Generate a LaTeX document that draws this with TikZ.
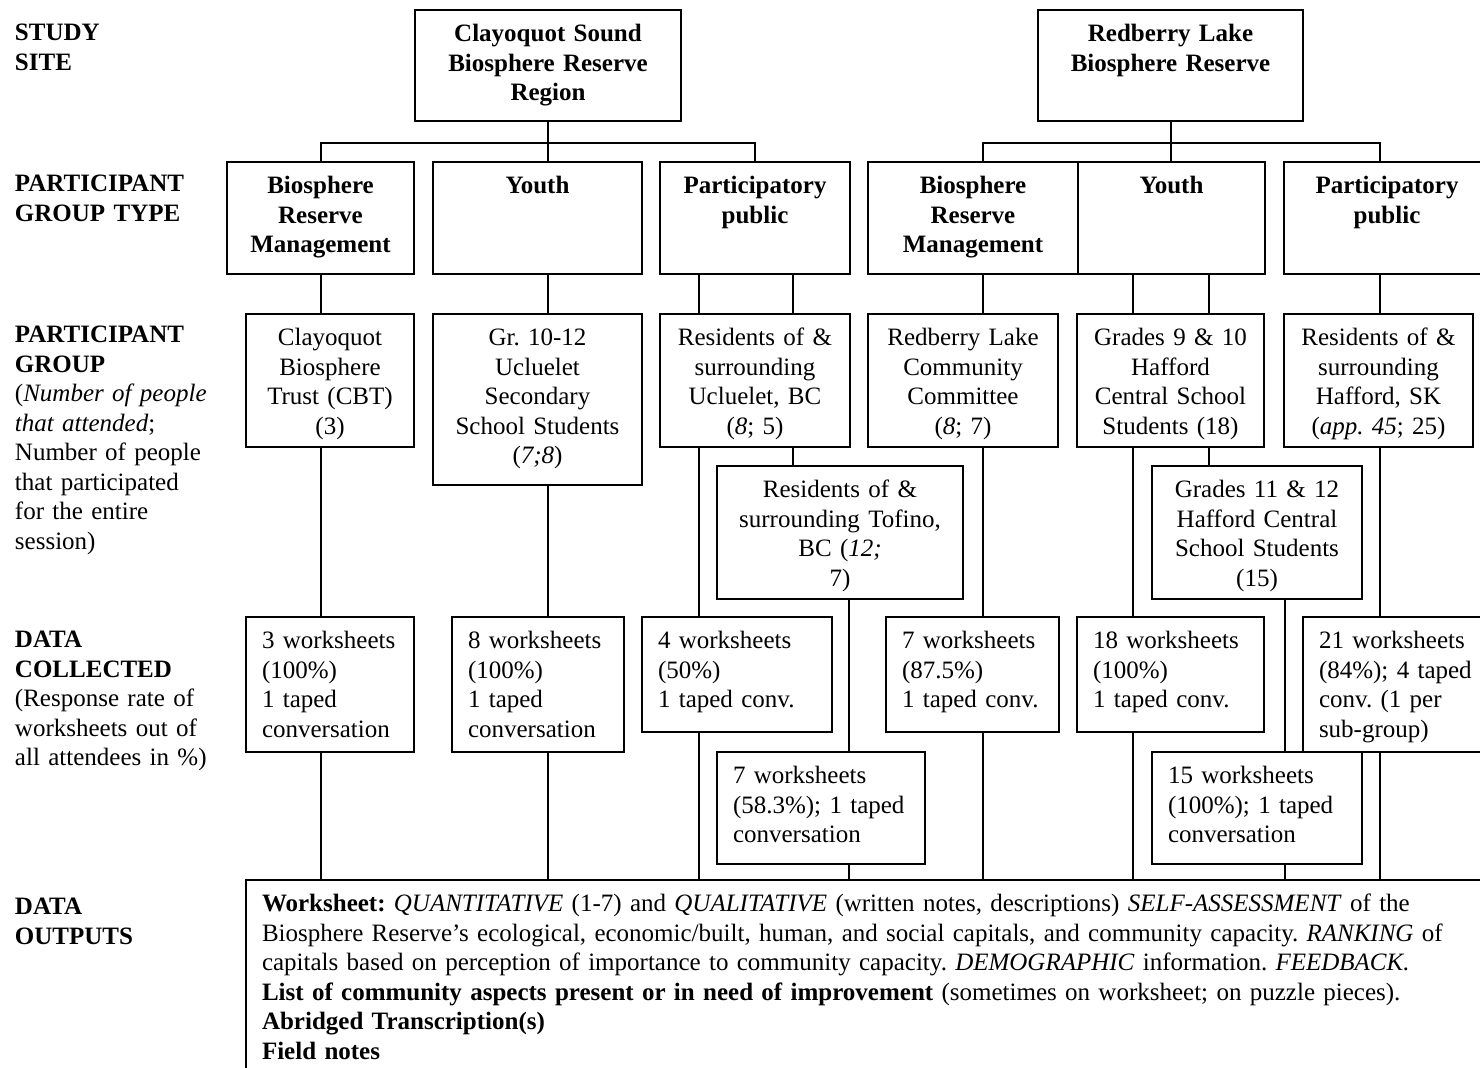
\documentclass[tikz,border=0pt]{standalone}
\usepackage{fontspec}
\setmainfont{Liberation Serif}
\usetikzlibrary{calc}
\frenchspacing

\begin{document}
\begin{tikzpicture}[x=0.5pt,y=-0.5pt,line width=1pt,
    every node/.style={font=\fontsize{12.5}{14.75}\selectfont},
    frame/.style={draw,anchor=north west,outer sep=0pt,inner ysep=0pt,text height=16pt},
    cbox/.code 2 args={\pgfmathsetmacro\bw{#1/2}\pgfmathsetmacro\bd{#2/2-16}%
        \tikzset{frame,align=center,inner xsep=0pt,text width=\bw pt,text depth=\bd pt}},
    lbox/.code 2 args={\pgfmathsetmacro\bw{#1/2-16}\pgfmathsetmacro\bd{#2/2-16}%
        \tikzset{frame,align=left,inner xsep=8pt,text width=\bw pt,text depth=\bd pt}},
    head/.style={font=\fontsize{12.5}{14.75}\selectfont\bfseries},
    side/.style={anchor=north west,inner sep=0pt,text height=16pt,text width=110pt,align=left}]
    \useasboundingbox (0,0) rectangle (1480,1068);

    % row labels
    \node[side,head] (lsite) at (14,8) {STUDY\\SITE};
    \node[side,head] (ltype) at (14,159) {PARTICIPANT\\GROUP TYPE};
    \node[side] (lgroup) at (14,310) {\textbf{PARTICIPANT}\\\textbf{GROUP}\\(\textit{Number of people}\\\textit{that attended};\\Number of people\\that participated\\for the entire\\session)};
    \node[side] (ldata) at (14,615) {\textbf{DATA}\\\textbf{COLLECTED}\\(Response rate of\\worksheets out of\\all attendees in \%)};
    \node[side,head] (lout) at (14,882) {DATA\\OUTPUTS};

    % study sites
    \node[cbox={266}{111},head] (clay) at (415,10) {Clayoquot Sound\\Biosphere Reserve\\Region};
    \node[cbox={265}{111},head] (red) at (1038,10) {Redberry Lake\\Biosphere Reserve};

    % group types
    \node[cbox={187}{112},head] (brm1) at (227,162) {Biosphere\\Reserve\\Management};
    \node[cbox={209}{112},head] (youth1) at (433,162) {Youth};
    \node[cbox={190}{112},head] (pp1) at (660,162) {Participatory\\public};
    \node[cbox={210}{112},head] (brm2) at (868,162) {Biosphere\\Reserve\\Management};
    \node[cbox={187}{112},head] (youth2) at (1078,162) {Youth};
    \node[cbox={206}{112},head] (pp2) at (1284,162) {Participatory\\public};

    % groups
    \node[cbox={168}{133}] (cbt) at (246,314) {Clayoquot\\Biosphere\\Trust (CBT)\\(3)};
    \node[cbox={209}{171}] (ucl) at (433,314) {Gr. 10-12\\Ucluelet\\Secondary\\School Students\\(\textit{7;8})};
    \node[cbox={190}{133}] (uclpp) at (660,314) {Residents of \&\\surrounding\\Ucluelet, BC\\(\textit{8}; 5)};
    \node[cbox={190}{133}] (rlc) at (868,314) {Redberry Lake\\Community\\Committee\\(\textit{8}; 7)};
    \node[cbox={187}{133}] (g910) at (1077,314) {Grades 9 \& 10\\Hafford\\Central School\\Students (18)};
    \node[cbox={189}{133}] (hpp) at (1284,314) {Residents of \&\\surrounding\\Hafford, SK\\(\textit{app. 45}; 25)};
    \node[cbox={246}{133}] (tof) at (717,466) {Residents of \&\\surrounding Tofino,\\BC (\textit{12;}\\7)};
    \node[cbox={210}{133}] (g1112) at (1152,466) {Grades 11 \& 12\\Hafford Central\\School Students\\(15)};

    % data collected
    \node[lbox={168}{135}] (ws3) at (246,617) {3 worksheets\\(100\%)\\1 taped\\conversation};
    \node[lbox={172}{135}] (ws8) at (452,617) {8 worksheets\\(100\%)\\1 taped\\conversation};
    \node[lbox={190}{115}] (ws4) at (642,617) {4 worksheets\\(50\%)\\1 taped conv.};
    \node[lbox={173}{115}] (ws7) at (886,617) {7 worksheets\\(87.5\%)\\1 taped conv.};
    \node[lbox={187}{115}] (ws18) at (1077,617) {18 worksheets\\(100\%)\\1 taped conv.};
    \node[lbox={190}{135}] (ws21) at (1303,617) {21 worksheets\\(84\%); 4 taped\\conv. (1 per\\sub-group)};
    \node[lbox={208}{112}] (ws58) at (717,752) {7 worksheets\\(58.3\%); 1 taped\\conversation};
    \node[lbox={210}{112}] (ws15) at (1152,752) {15 worksheets\\(100\%); 1 taped\\conversation};

    % data outputs
    \node[lbox={1250}{200}] (out) at (246,880) {\textbf{Worksheet:} \textit{QUANTITATIVE} (1-7) and \textit{QUALITATIVE} (written notes, descriptions) \textit{SELF-ASSESSMENT} of the\\Biosphere Reserve’s ecological, economic/built, human, and social capitals, and community capacity. \textit{RANKING} of\\capitals based on perception of importance to community capacity. \textit{DEMOGRAPHIC} information. \textit{FEEDBACK.}\\\textbf{List of community aspects present or in need of improvement} (sometimes on worksheet; on puzzle pieces).\\\textbf{Abridged Transcription(s)}\\\textbf{Field notes}};

    % columns of the connectors
    \coordinate (c1) at (321,0);
    \coordinate (c2) at (clay.south);
    \coordinate (c3) at (699,0);
    \coordinate (c4) at (793,0);
    \coordinate (c5) at (849,0);
    \coordinate (c6) at (983,0);
    \coordinate (c7) at (1133,0);
    \coordinate (c8) at (1209,0);
    \coordinate (c9) at (1285,0);
    \coordinate (c10) at (1380,0);
    \coordinate (j1) at ($(clay.south)+(0,22)$);
    \coordinate (j2) at ($(red.south)+(0,22)$);

    \draw
        (clay.south) -- (youth1.north -| c2)
        (brm1.north -| c1) |- (j1) -| (pp1.north)
        (red.south) -- (youth2.north -| red.south)
        (brm2.north -| c6) |- (j2) -| (pp2.north -| c10)
        (brm1.south -| c1) -- (cbt.north -| c1)
        (cbt.south -| c1) -- (ws3.north -| c1)
        (ws3.south -| c1) -- (out.north -| c1)
        (youth1.south -| c2) -- (ucl.north -| c2)
        (ucl.south -| c2) -- (ws8.north -| c2)
        (ws8.south -| c2) -- (out.north -| c2)
        (pp1.south -| c3) -- (uclpp.north -| c3)
        (uclpp.south -| c3) -- (ws4.north -| c3)
        (ws4.south -| c3) -- (out.north -| c3)
        (pp1.south -| c4) -- (uclpp.north -| c4)
        (uclpp.south -| c4) -- (tof.north -| c4)
        (tof.south -| c5) -- (ws58.north -| c5)
        (ws58.south -| c5) -- (out.north -| c5)
        (brm2.south -| c6) -- (rlc.north -| c6)
        (rlc.south -| c6) -- (ws7.north -| c6)
        (ws7.south -| c6) -- (out.north -| c6)
        (youth2.south -| c7) -- (g910.north -| c7)
        (g910.south -| c7) -- (ws18.north -| c7)
        (ws18.south -| c7) -- (out.north -| c7)
        (youth2.south -| c8) -- (g910.north -| c8)
        (g910.south -| c8) -- (g1112.north -| c8)
        (g1112.south -| c9) -- (ws15.north -| c9)
        (ws15.south -| c9) -- (out.north -| c9)
        (pp2.south -| c10) -- (hpp.north -| c10)
        (hpp.south -| c10) -- (ws21.north -| c10)
        (ws21.south -| c10) -- (out.north -| c10);
\end{tikzpicture}
\end{document}
